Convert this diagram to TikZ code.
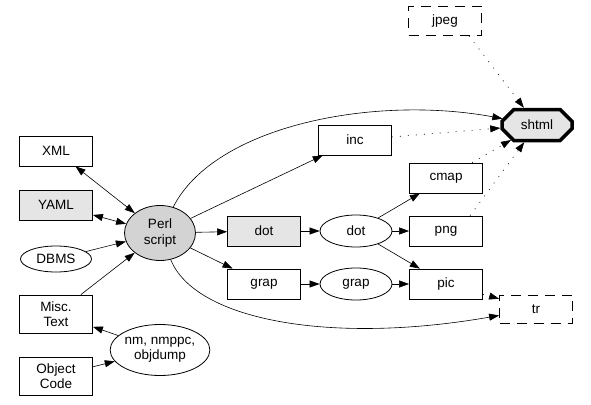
\documentclass[tikz,border=0pt]{standalone}
\usepackage{fontspec}
\setmainfont{Liberation Sans}
\usetikzlibrary{arrows.meta,shapes.geometric,shapes.misc}
\definecolor{lgray}{HTML}{E5E5E5}
\definecolor{mgray}{HTML}{D3D3D3}
\tikzset{
  base/.style={draw,line width=0.8pt,inner sep=0pt,align=center,font=\fontsize{13.5}{15.5}\selectfont},
  boxn/.style={base,rectangle,minimum width=73pt,minimum height=30pt},
  tallbox/.style={boxn,minimum height=38pt},
  dbox/.style={boxn,dash pattern=on 10pt off 7pt},
  elln/.style={base,ellipse,minimum width=72pt,minimum height=32pt},
  tip/.style={-{Triangle[length=10pt,width=7pt]}},
  dtip/.style={{Triangle[length=10pt,width=7pt]}-{Triangle[length=10pt,width=7pt]}},
  edge/.style={line width=0.6pt,tip},
  dotedge/.style={edge,dash pattern=on 1pt off 7pt},
}
\begin{document}
\begin{tikzpicture}[x=1pt,y=-1pt]
\useasboundingbox (0,0) rectangle (591,404);
% nodes
\node[boxn] (xml) at (56,151) {XML};
\node[boxn,fill=lgray] (yaml) at (56,205) {YAML};
\node[elln,minimum width=71pt,minimum height=26pt] (dbms) at (56,259) {DBMS};
\node[tallbox] (misc) at (56,314) {Misc.\\Text};
\node[tallbox] (obj) at (56,376) {Object\\Code};
\node[elln,minimum width=99pt,minimum height=51pt] (nm) at (160,350) {nm, nmppc,\\objdump};
\node[elln,fill=mgray,minimum width=71pt,minimum height=55pt] (perl) at (160,233) {Perl\\script};
\node[boxn] (inc) at (355,140) {inc};
\node[boxn,fill=lgray] (dotb) at (264,231) {dot};
\node[elln] (dote) at (356,231) {dot};
\node[boxn] (grapb) at (264,284) {grap};
\node[elln] (grape) at (356,284) {grap};
\node[boxn] (cmap) at (446,178) {cmap};
\node[boxn] (png) at (446,231) {png};
\node[boxn] (pic) at (446,284) {pic};
\node[dbox,minimum height=29pt] (jpeg) at (445,21) {jpeg};
\node[dbox,minimum height=28pt] (tr) at (536,309) {tr};
\node[base,chamfered rectangle,chamfered rectangle xsep=18pt,chamfered rectangle ysep=7pt,
      minimum width=70pt,minimum height=31pt,line width=3.5pt,fill=lgray] (shtml) at (537,125) {shtml};
% edges
\draw[line width=0.6pt,dtip] (xml) -- (perl);
\draw[line width=0.6pt,dtip] (yaml) -- (perl);
\draw[edge] (dbms) -- (perl);
\draw[edge] (misc) -- (perl);
\draw[edge] (obj) -- (nm);
\draw[edge] (nm) -- (misc);
\draw[edge] (perl) -- (inc);
\draw[edge] (perl) -- (dotb);
\draw[edge] (perl) -- (grapb);
\draw[edge] (perl) .. controls (215,125) and (375,95) .. (shtml);
\draw[edge] (perl) .. controls (195,320) and (330,345) .. (tr);
\draw[edge] (dotb) -- (dote);
\draw[edge] (dote) -- (cmap);
\draw[edge] (dote) -- (png);
\draw[edge] (dote) -- (pic);
\draw[edge] (grapb) -- (grape);
\draw[edge] (grape) -- (pic);
\draw[dotedge] (inc) -- (shtml);
\draw[dotedge] ([xshift=24pt]jpeg.south) -- (shtml);
\draw[dotedge] ([xshift=26pt]cmap.north) -- (shtml);
\draw[dotedge] ([xshift=24pt]png.north) -- (shtml);
\draw[dotedge] (pic) -- (tr);
\end{tikzpicture}
\end{document}
